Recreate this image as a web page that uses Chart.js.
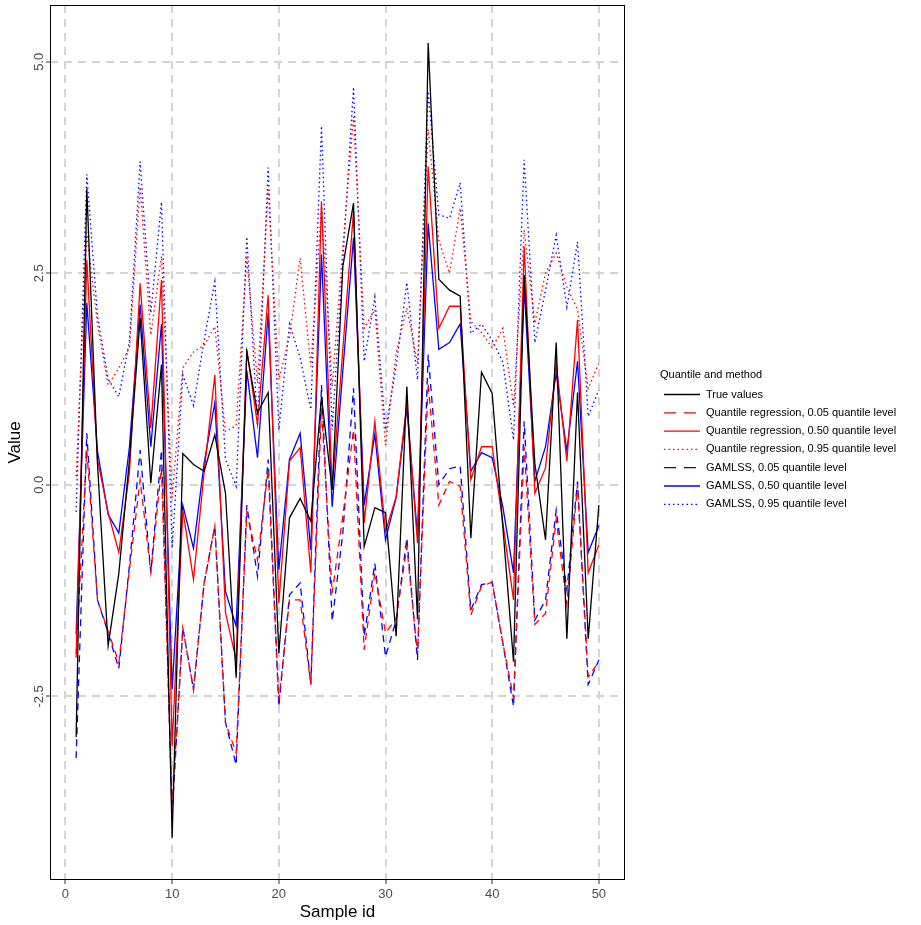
<!DOCTYPE html>
<html lang="en">
<head>
  <meta charset="UTF-8">
  <script src="https://cdn.jsdelivr.net/npm/chart.js"></script>
  <title>Quantile and method</title>
  <style>
    body { margin: 0; background: #ffffff; }
    .grafico { width: 921px; height: 925px; position: relative; }
  </style>
</head>
<body>
  <div class="grafico">
    <canvas id="myChartCanvas"></canvas>
  </div>

<script>
  // dados
  const sampleId = [1, 2, 3, 4, 5, 6, 7, 8, 9, 10, 11, 12, 13, 14, 15, 16, 17, 18, 19, 20,
    21, 22, 23, 24, 25, 26, 27, 28, 29, 30, 31, 32, 33, 34, 35, 36, 37, 38, 39, 40,
    41, 42, 43, 44, 45, 46, 47, 48, 49, 50];

  const trueValues = [-2.98, 3.50, 0.25, -1.90, -1.05, 0.30, 1.97, 0.02, 1.42, -4.17,
    0.37, 0.24, 0.16, 0.59, -0.10, -2.28, 1.57, 0.85, 1.09, -1.99,
    -0.39, -0.16, -0.43, 1.04, -0.06, 2.58, 3.33, -0.73, -0.27, -0.33,
    -1.79, 1.16, -1.59, 5.22, 2.43, 2.30, 2.23, -0.63, 1.33, 1.08,
    -0.50, -2.09, 2.48, 0.25, -0.65, 1.68, -1.82, 1.09, -1.82, -0.24];

  const qr05 = [-2.00, 0.41, -1.36, -1.73, -2.10, -1.00, 0.06, -1.04, 0.20, -3.80,
    -1.69, -2.42, -1.16, -0.49, -2.81, -3.17, -0.33, -0.89, 0.18, -2.55,
    -1.36, -1.36, -2.36, 0.91, -1.28, -0.37, 0.65, -1.95, -1.04, -1.75,
    -1.58, -0.73, -2.00, 1.20, -0.24, 0.04, -0.02, -1.54, -1.20, -1.15,
    -1.87, -2.52, 0.45, -1.65, -1.52, -0.41, -1.41, 0.00, -2.27, -2.09];

  const qr50 = [-2.04, 2.66, 0.30, -0.33, -0.80, 0.15, 2.38, 0.67, 2.42, -3.09,
    -0.30, -1.12, 0.15, 1.30, -1.51, -2.07, 1.60, 0.71, 2.24, -1.40,
    0.28, 0.44, -1.04, 3.35, -0.05, 1.60, 3.23, -0.45, 0.75, -0.55,
    -0.14, 0.97, -0.69, 3.76, 1.85, 2.11, 2.11, 0.06, 0.45, 0.45,
    -0.45, -1.36, 2.82, -0.10, 0.20, 1.44, 0.28, 1.95, -1.04, -0.71];

  const qr95 = [0.10, 2.98, 1.90, 1.18, 1.38, 1.62, 3.52, 1.77, 2.70, -0.15,
    1.38, 1.57, 1.65, 1.87, 0.63, 0.70, 2.70, 1.20, 3.49, 1.24,
    1.75, 2.68, 1.40, 3.29, 1.16, 2.80, 4.35, 1.85, 2.07, 0.47,
    1.56, 2.09, 1.44, 4.20, 2.89, 2.50, 3.27, 1.93, 1.80, 1.62,
    1.85, 0.93, 3.01, 1.91, 2.50, 2.74, 2.34, 2.07, 1.14, 1.44];

  const gam05 = [-3.23, 0.61, -1.36, -1.75, -2.17, -0.95, 0.41, -1.04, 0.41, -3.90,
    -1.69, -2.42, -1.16, -0.49, -2.81, -3.31, -0.24, -1.08, 0.30, -2.62,
    -1.30, -1.16, -2.36, 1.18, -1.61, -0.57, 1.14, -1.79, -0.93, -2.03,
    -1.60, -0.63, -2.07, 1.54, 0.00, 0.19, 0.22, -1.48, -1.18, -1.15,
    -1.87, -2.62, 0.75, -1.60, -1.36, -0.30, -1.24, 0.04, -2.36, -2.07];

  const gam50 = [-1.77, 2.15, 0.40, -0.35, -0.57, 0.45, 2.13, 0.45, 1.90, -2.42,
    -0.24, -0.75, 0.26, 0.97, -1.26, -1.67, 1.35, 0.32, 2.03, -1.00,
    0.30, 0.61, -0.77, 2.72, -0.26, 1.35, 2.92, -0.24, 0.60, -0.65,
    -0.15, 0.91, -0.60, 3.09, 1.60, 1.68, 1.90, 0.16, 0.38, 0.32,
    -0.26, -1.04, 2.34, 0.04, 0.45, 1.32, 0.40, 1.46, -0.80, -0.48];

  const gam95 = [-0.32, 3.67, 2.00, 1.25, 1.04, 1.70, 3.82, 2.03, 3.34, -0.75,
    1.30, 0.94, 1.71, 2.40, 0.30, -0.02, 2.93, 0.70, 3.75, 0.65,
    1.90, 1.50, 0.89, 4.24, 0.65, 2.65, 4.70, 1.46, 2.22, 0.65,
    1.40, 2.39, 1.24, 4.65, 3.19, 3.15, 3.57, 1.79, 1.90, 1.71,
    1.45, 0.53, 3.84, 1.68, 2.30, 2.95, 2.10, 2.87, 0.81, 1.12];

  const seriesNames = [
    'True values',
    'Quantile regression, 0.05 quantile level',
    'Quantile regression, 0.50 quantile level',
    'Quantile regression, 0.95 quantile level',
    'GAMLSS, 0.05 quantile level',
    'GAMLSS, 0.50 quantile level',
    'GAMLSS, 0.95 quantile level'
  ];
  const legendTitle = 'Quantile and method';

  const xTicks = [0, 10, 20, 30, 40, 50];
  const yTicks = [-2.5, 0, 2.5, 5];

  const fonte = '"Liberation Sans", Arial, sans-serif';

  function pontos(valores) {
    return sampleId.map(function (id, i) { return { x: id, y: valores[i] }; });
  }

  function serie(nome, valores, cor, traco) {
    return {
      label: nome,
      data: pontos(valores),
      borderColor: cor,
      backgroundColor: cor,
      borderWidth: 1.3,
      borderDash: traco,
      pointRadius: 0,
      tension: 0,
      fill: false
    };
  }

  const dados = {
    datasets: [
      serie(seriesNames[0], trueValues, '#000000', []),
      serie(seriesNames[1], qr05, '#ff0000', [7, 5]),
      serie(seriesNames[2], qr50, '#ff0000', []),
      serie(seriesNames[3], qr95, '#ff0000', [1.5, 3]),
      serie(seriesNames[4], gam05, '#0000ff', [7, 5]),
      serie(seriesNames[5], gam50, '#0000ff', []),
      serie(seriesNames[6], gam95, '#0000ff', [1.5, 3])
    ]
  };

  // moldura do painel
  const moldura = {
    id: 'moldura',
    afterDatasetsDraw(chart) {
      const a = chart.chartArea;
      const ctx = chart.ctx;
      ctx.save();
      ctx.strokeStyle = '#000000';
      ctx.lineWidth = 1;
      ctx.strokeRect(a.left + 0.5, a.top + 0.5, a.right - a.left - 1, a.bottom - a.top - 1);
      ctx.restore();
    }
  };

  // legenda lateral desenhada a mao para ter os tracos certos
  const legenda = {
    id: 'legenda',
    afterDraw(chart) {
      const ctx = chart.ctx;
      ctx.save();
      ctx.font = '11px ' + fonte;
      ctx.fillStyle = '#000000';
      ctx.textBaseline = 'middle';
      ctx.textAlign = 'left';
      ctx.fillText(legendTitle, 660, 375);
      chart.data.datasets.forEach(function (ds, i) {
        const y = 394.5 + i * 18.3;
        ctx.beginPath();
        // na legenda o tracejado fica mais longo, como no original
        ctx.setLineDash(ds.borderDash.length && ds.borderDash[0] > 2 ? [12, 8] : ds.borderDash);
        ctx.strokeStyle = ds.borderColor;
        ctx.lineWidth = ds.borderWidth;
        ctx.moveTo(664, y);
        ctx.lineTo(700, y);
        ctx.stroke();
        ctx.setLineDash([]);
        ctx.fillText(ds.label, 706, y);
      });
      ctx.restore();
    }
  };

  const config = {
    type: 'line',
    data: dados,
    options: {
      responsive: true,
      maintainAspectRatio: false,
      devicePixelRatio: 1,
      animation: false,
      layout: { padding: { top: 5, right: 296, left: 0, bottom: 0 } },
      plugins: { legend: { display: false }, tooltip: { enabled: false } },
      scales: {
        x: {
          type: 'linear',
          min: -1.45,
          max: 52.45,
          afterBuildTicks: function (s) { s.ticks = xTicks.map(function (v) { return { value: v }; }); },
          afterFit: function (s) { s.height = 45; },
          grid: { color: '#d4d4d4', lineWidth: 2, tickLength: 4, tickColor: '#333333', tickWidth: 1 },
          border: { display: false, dash: [8, 6] },
          ticks: { color: '#4d4d4d', font: { family: fonte, size: 13 }, padding: 3, maxRotation: 0 },
          title: { display: true, text: 'Sample id', color: '#000000', font: { family: fonte, size: 17 }, padding: { top: 0, bottom: 2 } }
        },
        y: {
          type: 'linear',
          min: -4.67,
          max: 5.67,
          afterBuildTicks: function (s) { s.ticks = yTicks.map(function (v) { return { value: v }; }); },
          afterFit: function (s) { s.width = 50; },
          grid: { color: '#d4d4d4', lineWidth: 2, tickLength: 4, tickColor: '#333333', tickWidth: 1 },
          border: { display: false, dash: [8, 6] },
          ticks: {
            color: '#4d4d4d', font: { family: fonte, size: 13 },
            minRotation: 90, maxRotation: 90, crossAlign: 'center', padding: -5,
            callback: function (v) { return v.toFixed(1); }
          },
          title: { display: true, text: 'Value', color: '#000000', font: { family: fonte, size: 17 }, padding: { top: 5, bottom: 0 } }
        }
      }
    },
    plugins: [moldura, legenda]
  };

  let myChart = new Chart(document.getElementById('myChartCanvas'), config);
</script>
</body>
</html>
